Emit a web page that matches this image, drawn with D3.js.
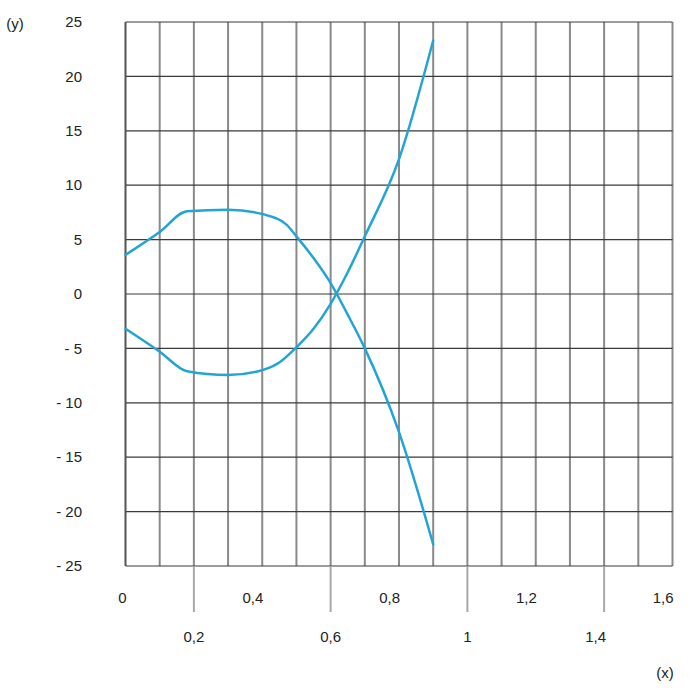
<!DOCTYPE html>
<html>
<head>
<meta charset="utf-8">
<script src="https://cdn.jsdelivr.net/npm/d3@7"></script>
<style>
  body { margin: 0; background: #fff; }
  svg { display: block; }
  text { font-family: "Liberation Sans", Arial, sans-serif; font-size: 15px; fill: #222; }
</style>
</head>
<body>
<svg id="chart" width="700" height="700"></svg>
<script>
// Data
const upperX = [0, 0.1, 0.18, 0.3, 0.4, 0.47, 0.5, 0.55, 0.6, 0.65, 0.7, 0.8, 0.9];
const upperY = [3.6, 5.7, 7.6, 7.75, 7.35, 6.4, 5.3, 3.3, 1.0, -1.9, -5.0, -12.7, -23.0];
const lowerX = [0, 0.1, 0.18, 0.3, 0.4, 0.45, 0.5, 0.55, 0.6, 0.65, 0.7, 0.8, 0.9];
const lowerY = [-3.2, -5.3, -7.1, -7.45, -7.0, -6.3, -4.9, -3.2, -0.9, 2.0, 5.3, 12.4, 23.3];
const xTicks = [0, 0.2, 0.4, 0.6, 0.8, 1, 1.2, 1.4, 1.6];
const xTickLabels = ["0", "0,2", "0,4", "0,6", "0,8", "1", "1,2", "1,4", "1,6"];
const yTicks = [25, 20, 15, 10, 5, 0, -5, -10, -15, -20, -25];
const yTickLabels = ["25", "20", "15", "10", "5", "0", "- 5", "- 10", "- 15", "- 20", "- 25"];
const xGrid = d3.range(0, 17).map(i => i / 10);

const svg = d3.select("#chart");
const x = d3.scaleLinear().domain([0, 1.6]).range([125.5, 672.5]);
const y = d3.scaleLinear().domain([-25, 25]).range([566, 22]);

// vertical grid
svg.append("g").selectAll("line").data(xGrid).join("line")
  .attr("x1", d => x(d)).attr("x2", d => x(d))
  .attr("y1", y(25)).attr("y2", y(-25))
  .attr("stroke", "#8a8a8a").attr("stroke-width", 2);

// horizontal grid
svg.append("g").selectAll("line").data(yTicks).join("line")
  .attr("x1", x(0)).attr("x2", x(1.6))
  .attr("y1", d => y(d)).attr("y2", d => y(d))
  .attr("stroke", "#3a3a3a").attr("stroke-width", 1.2);

// left edge darker
svg.append("line").attr("x1", x(0)).attr("x2", x(0)).attr("y1", y(25)).attr("y2", y(-25))
  .attr("stroke", "#555").attr("stroke-width", 1.5);

// extended ticks for even-row labels
const longTicks = xTicks.filter((d, i) => i % 2 === 1);
svg.append("g").selectAll("line").data(longTicks).join("line")
  .attr("x1", d => x(d)).attr("x2", d => x(d))
  .attr("y1", y(-25)).attr("y2", 612)
  .attr("stroke", "#a8a8a8").attr("stroke-width", 2);

// x labels
svg.append("g").selectAll("text").data(xTicks).join("text")
  .attr("x", (d, i) => {
    if (i === 0) return x(d) - 3;
    if (i % 2 === 0) return x(d) + 1;
    if (d === 1.4) return x(d) + 2;
    return x(d);
  })
  .attr("y", (d, i) => i % 2 === 0 ? 598 : 637)
  .attr("dy", "0.35em")
  .attr("text-anchor", (d, i) => {
    if (i === 0) return "middle";
    if (i % 2 === 0) return "end";
    if (d === 1.4) return "end";
    return "middle";
  })
  .text((d, i) => xTickLabels[i]);

// y labels
svg.append("g").selectAll("text").data(yTicks).join("text")
  .attr("x", 82)
  .attr("y", d => y(d))
  .attr("dy", "0.35em")
  .attr("text-anchor", "end")
  .text((d, i) => yTickLabels[i]);

// axis titles
svg.append("text").attr("x", 15).attr("y", 24).attr("dy", "0.35em")
  .attr("text-anchor", "middle").text("(y)");
svg.append("text").attr("x", 665).attr("y", 673).attr("dy", "0.35em")
  .attr("text-anchor", "middle").text("(x)");

// curves
const line = d3.line().x(d => x(d[0])).y(d => y(d[1])).curve(d3.curveMonotoneX);
const upper = upperX.map((v, i) => [v, upperY[i]]);
const lower = lowerX.map((v, i) => [v, lowerY[i]]);
[upper, lower].forEach(series => {
  svg.append("path").datum(series)
    .attr("d", line)
    .attr("fill", "none")
    .attr("stroke", "#22a5d6")
    .attr("stroke-width", 2.5)
    .attr("stroke-linejoin", "round")
    .attr("stroke-linecap", "round");
});
</script>
</body>
</html>
